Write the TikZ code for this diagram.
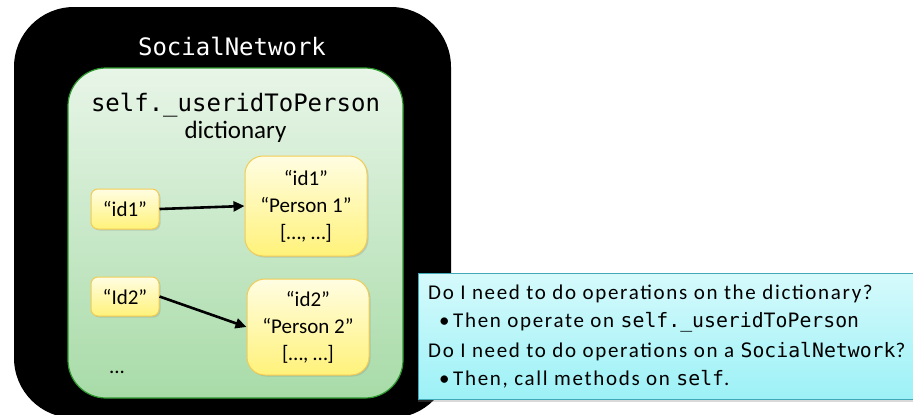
\documentclass[tikz,border=0pt]{standalone}
\usepackage{fontspec}
\setmainfont{Carlito}
\setmonofont{DejaVu Sans Mono}
\newfontfamily\notefont[LetterSpace=8]{Carlito}
\newcommand{\notemono}[1]{{\ttfamily\fontsize{19.8}{24}\selectfont #1}}
\usetikzlibrary{arrows.meta,shadows}
\definecolor{gtop}{HTML}{E8F5E8}
\definecolor{gbot}{HTML}{A8DBA8}
\definecolor{gline}{HTML}{2E9A2E}
\definecolor{ytop}{HTML}{FFFDE2}
\definecolor{ybot}{HTML}{FFF27A}
\definecolor{yline}{HTML}{F2CC55}
\definecolor{ctop}{HTML}{D6FAFC}
\definecolor{cbot}{HTML}{9CF1F6}
\definecolor{cline}{HTML}{3FA9B8}
\tikzset{
  outerbox/.style={fill=black, rounded corners=60pt, inner sep=0pt},
  dictbox/.style={draw=gline, line width=1.2pt, top color=gtop, bottom color=gbot, rounded corners=38pt, inner sep=0pt},
  ybox/.style={draw=yline, line width=1pt, top color=ytop, bottom color=ybot, inner sep=0pt,
    drop shadow={opacity=0.25, shadow xshift=1.5pt, shadow yshift=-1.5pt}},
  cbox/.style={draw=cline, line width=1pt, top color=ctop, bottom color=cbot, inner sep=0pt,
    drop shadow={opacity=0.3, shadow xshift=0pt, shadow yshift=-3pt}},
  keytext/.style={font=\fontsize{21}{27}\selectfont, align=center, text=black},
  linktext/.style={font=\notefont\fontsize{21}{24}\selectfont, anchor=base west, inner sep=0pt},
  link/.style={line width=2.6pt, -{Triangle[length=11pt,width=10pt]}},
}
\begin{document}
\begin{tikzpicture}[x=1pt,y=-1pt]
\useasboundingbox (0,0) rectangle (913,415);
\begin{scope}
\clip (0,0) rectangle (913,415);
\node[outerbox, minimum width=437pt, minimum height=411pt] (outer) at (232.5,212.5) {};
\node[dictbox, minimum width=335pt, minimum height=330pt] (dict) at (235.5,233) {};
\node[anchor=base, text=white, font=\ttfamily\fontsize{24}{28}\selectfont, inner sep=0pt] (title) at (232,55) {SocialNetwork};
\node[anchor=base, font=\ttfamily\fontsize{24}{28}\selectfont, inner sep=0pt] (dname) at (235.5,111) {self.\_useridToPerson};
\node[anchor=base, font=\fontsize{25}{30}\selectfont, inner sep=0pt] (dlabel) at (235.5,138) {dictionary};

\node[ybox, rounded corners=7pt, minimum width=68pt, minimum height=40pt, keytext] (k1) at (125,209) {“id1”};
\node[ybox, rounded corners=7pt, minimum width=68pt, minimum height=39pt, keytext] (k2) at (125,296.5) {“Id2”};
\node[ybox, rounded corners=18pt, minimum width=122pt, minimum height=100pt, keytext] (v1) at (306,206) {“id1”\\“Person 1”\\{[}…, …{]}};
\node[ybox, rounded corners=18pt, minimum width=122pt, minimum height=96pt, keytext] (v2) at (308,327) {“id2”\\“Person 2”\\{[}…, …{]}};
\node[anchor=base, font=\fontsize{21}{24}\selectfont, inner sep=0pt] (dots) at (117,373) {...};

\draw[link] (k1.east) -- (v1.west);
\draw[link] (k2.east) -- (v2.west);

\node[cbox, minimum width=498pt, minimum height=126pt] (note) at (667,336) {};
\node[linktext] (l1) at (428,299) {Do I need to do operations on the dictionary?};
\node[linktext] (b2) at (439,327) {•};
\node[linktext] (l2) at (453,327) {Then operate on \notemono{self.\_useridToPerson}};
\node[linktext] (l3) at (428,357) {Do I need to do operations on a \notemono{SocialNetwork}?};
\node[linktext] (b4) at (439,385) {•};
\node[linktext] (l4) at (453,385) {Then, call methods on \notemono{self}.};
\end{scope}
\end{tikzpicture}
\end{document}
